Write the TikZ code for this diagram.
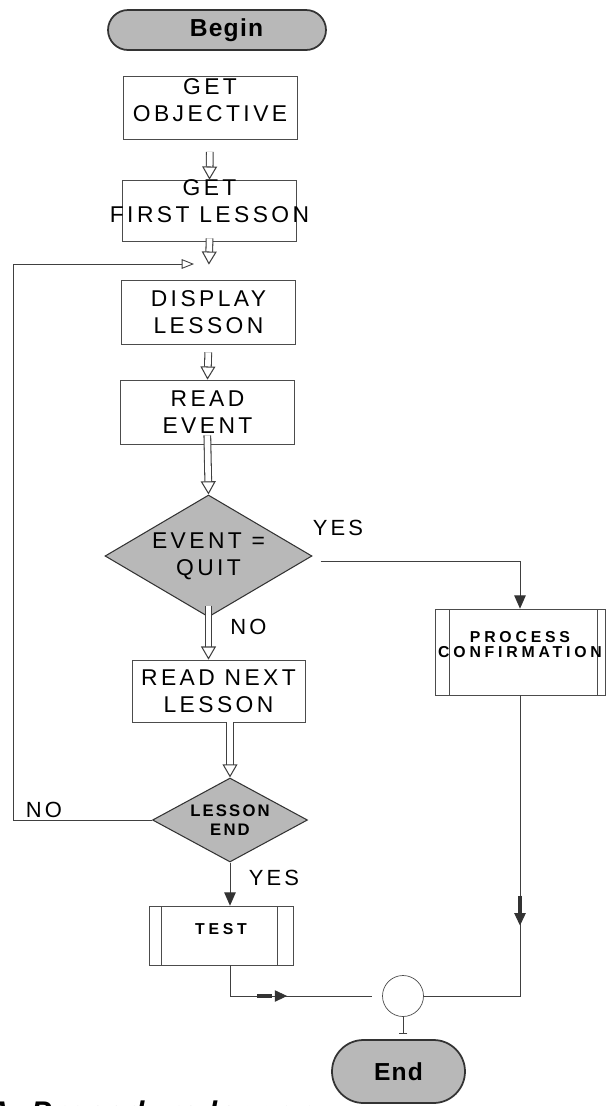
\documentclass[tikz,border=0pt]{standalone}
\usepackage{fontspec}
\setmainfont{Liberation Sans}
\usetikzlibrary{arrows.meta,shapes.geometric,shapes.misc,decorations.markings}

\definecolor{shade}{gray}{0.72}
\definecolor{ink}{gray}{0.2}

\newcommand{\wide}[1]{\makebox[0pt]{#1}}

\begin{document}
\begin{tikzpicture}[x=0.02cm, y=-0.02cm,
    box/.style={draw=black!70, minimum width=3.48cm, minimum height=1.26cm, inner sep=0pt, align=center,
      font=\fontsize{13}{15.5}\selectfont\addfontfeature{LetterSpace=15}},
    boxtext/.style={inner sep=0pt, align=center, font=\fontsize{13}{15.5}\selectfont\addfontfeature{LetterSpace=15}},
    small/.style={inner sep=0pt, align=center, font=\fontsize{9}{9}\selectfont\bfseries\addfontfeature{LetterSpace=24}},
    term/.style={rounded rectangle, draw=ink, line width=1pt, fill=shade, inner sep=0pt,
      font=\fontsize{14}{14}\selectfont\bfseries\addfontfeature{LetterSpace=5}},
    decision/.style={diamond, draw=ink, line width=0.6pt, fill=shade, inner sep=0pt, align=center},
    subproc/.style 2 args={draw=black!70, inner sep=0pt,
      path picture={
        \draw[black!70] ([xshift=#1]path picture bounding box.north west) -- ([xshift=#1]path picture bounding box.south west);
        \draw[black!70] ([xshift=-#2]path picture bounding box.north east) -- ([xshift=-#2]path picture bounding box.south east);}},
    word/.style={inner sep=0pt, font=\fontsize{12.5}{15}\selectfont\addfontfeature{LetterSpace=14}},
    flow/.style={draw=black!75, line width=0.5pt},
    hollow/.style={draw=black!75, line width=0.6pt, double=white, double distance=3.2pt,
      -{Triangle[open, length=7.5pt, width=8.5pt]}},
    headed/.style={-{Triangle[length=7.5pt, width=6.5pt, ink]}},
    midtip/.style={postaction={decorate}, decoration={markings, mark=at position #1 with {
        \draw[ink, line width=2.2pt] (-17pt,0) -- (-3pt,0); \arrow[ink]{Triangle[length=7pt, width=6.5pt]}}}}]
  \useasboundingbox (0,0) rectangle (606,1106);

  % main column
  \node[term, minimum width=4.36cm, minimum height=0.8cm] (B) at (217,30) {\hspace*{0.38cm}Begin};
  \node[box, label={[boxtext, yshift=0.16cm]center:{GET\\OBJECTIVE}}] (O) at (210,108) {};
  \node[box, minimum height=1.22cm, label={[boxtext, yshift=0.19cm]center:{GET\\FIRST LESSON}}] (F) at (209.5,210.5) {};
  \node[box, minimum height=1.28cm] (D) at (208.5,312) {DISPLAY\\LESSON};
  \node[box, minimum height=1.28cm] (R) at (207.5,412) {READ\\EVENT};
  \node[decision, minimum width=4.14cm, minimum height=2.44cm,
        font=\fontsize{13}{15.5}\selectfont\addfontfeature{LetterSpace=15}] (Q) at (208.5,556) {\wide{EVENT =}\\\wide{QUIT}};
  \node[box, minimum width=3.46cm, minimum height=1.24cm] (N) at (218.5,691) {READ NEXT\\LESSON};
  \node[decision, minimum width=3.1cm, minimum height=1.68cm,
        font=\fontsize{9.5}{10.5}\selectfont\bfseries\addfontfeature{LetterSpace=13}] (L) at (230,820) {\wide{LESSON}\\\wide{END}};
  \node[subproc={0.24cm}{0.32cm}, minimum width=2.88cm, minimum height=1.18cm,
        label={[small, yshift=0.13cm]center:TEST}] (T) at (221,935.5) {};

  % right branch
  \node[subproc={0.28cm}{0.16cm}, minimum width=3.4cm, minimum height=1.72cm,
        label={[small, yshift=0.15cm]center:{PROCESS\\CONFIRMATION}}] (P) at (520,652) {};
  \node[circle, draw=black!70, minimum size=0.82cm, inner sep=0pt] (C) at (403,996) {};
  \node[term, minimum width=2.66cm, minimum height=1.26cm] (E) at (398.5,1071.5) {End};

  \node[word] (Qy) at (338,528) {YES};
  \node[word] (Qn) at (248.5,627) {NO};
  \node[word] (Ln) at (44,810) {NO};
  \node[word] (Ly) at (274,878) {YES};

  \node[anchor=base west, inner sep=0pt,
        font=\fontsize{17}{17}\selectfont\bfseries\itshape\addfontfeature{LetterSpace=8}] (cap) at (-12,1122) {A. Procedure lesson};

  \coordinate (back) at (194,264);

  \draw[hollow, shorten <=0.24cm] (O.south) to (F.north);
  \draw[hollow, shorten <=-0.06cm, shorten >=0.3cm] (F.south) to (D.north);
  \draw[hollow, shorten <=0.16cm] (D.south) to (R.north);
  \draw[hollow, shorten <=-0.18cm] (R.south) to (Q.north);
  \draw[hollow, shorten <=-0.24cm] (Q.south) to (Q.south |- N.north);
  \draw[hollow] (N.south -| L.north) to (L.north);

  \draw[flow, -{Triangle[open, length=7pt, width=5.5pt]}] (L.west) -| (13,264) -- (back);
  \draw[flow, headed] (L.south) to (L.south |- T.north);
  \draw[flow, midtip=0.48, shorten >=0.2cm] (L.south |- T.south) |- (C.west);

  \draw[flow, headed, shorten <=0.16cm] ([yshift=-0.1cm]Q.east) -| (P.north);
  \draw[flow, midtip=0.58] (P.south) |- (C.east);
  \draw[flow, -{Bar[width=5pt]}, shorten >=0.1cm] (C.south) to (C.south |- E.north);
\end{tikzpicture}
\end{document}
